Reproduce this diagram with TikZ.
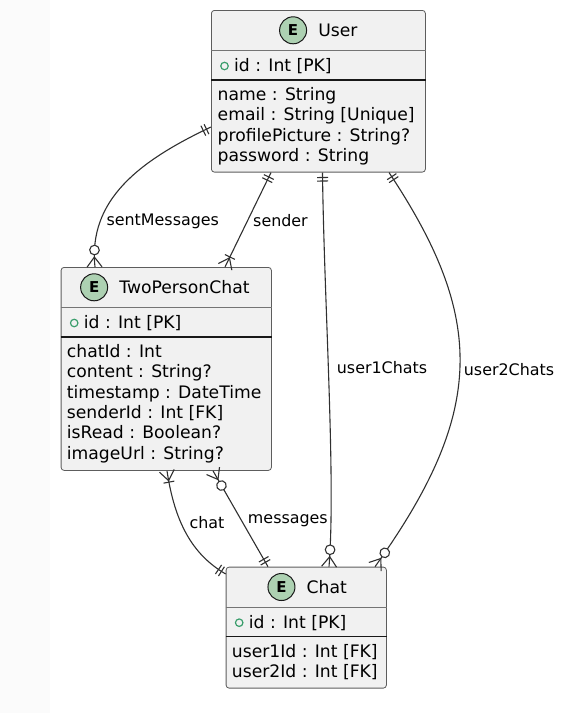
\documentclass[tikz,border=0pt]{standalone}
\usepackage{fontspec}
\setmainfont{DejaVu Sans}
\usetikzlibrary{positioning,decorations.markings}
\definecolor{entfill}{HTML}{F1F1F1}
\definecolor{entline}{HTML}{181818}
\definecolor{spotgreen}{HTML}{ADD1B2}
\definecolor{pkgreen}{HTML}{3A9E6C}
\definecolor{linkcol}{HTML}{303030}
\tikzset{
  ent/.style={draw=entline!70, line width=0.8pt, fill=entfill, rounded corners=3pt, inner sep=0pt},
  etitle/.style={font=\fontsize{17.2pt}{20.3pt}\selectfont, inner sep=0pt},
  etext/.style={font=\fontsize{17.2pt}{20.3pt}\selectfont, inner sep=0pt, align=left},
  spot/.style={circle, draw=entline, line width=1pt, fill=spotgreen, minimum size=27pt, inner sep=0pt,
    font=\bfseries\fontsize{15pt}{15pt}\selectfont},
  pkdot/.style={circle, draw=pkgreen, line width=1.2pt, minimum size=7.5pt, inner sep=0pt},
  hsep/.style={draw=entline!60, line width=0.8pt},
  pksep/.style={draw=entline, line width=1.5pt},
  link/.style={draw=linkcol, line width=1.1pt},
  lbl/.style={font=\fontsize{15.9pt}{18pt}\selectfont, inner sep=0pt, anchor=west},
  % crow's foot ends
  one start/.style={postaction={decorate, decoration={markings,
    mark=at position 5pt with {\draw[link] (0pt,-5.5pt) -- (0pt,5.5pt);},
    mark=at position 8.5pt with {\draw[link] (0pt,-5.5pt) -- (0pt,5.5pt);}}}},
  one end/.style={postaction={decorate, decoration={markings,
    mark=at position -5pt with {\draw[link] (0pt,-5.5pt) -- (0pt,5.5pt);},
    mark=at position -8.5pt with {\draw[link] (0pt,-5.5pt) -- (0pt,5.5pt);}}}},
  many start/.style={postaction={decorate, decoration={markings,
    mark=at position 10pt with {\draw[link] (-10pt,7.5pt) -- (0pt,0pt) -- (-10pt,-7.5pt);}}}},
  many end/.style={postaction={decorate, decoration={markings,
    mark=at position -10pt with {\draw[link] (10pt,7.5pt) -- (0pt,0pt) -- (10pt,-7.5pt);}}}},
  bar start/.style={postaction={decorate, decoration={markings,
    mark=at position 11.5pt with {\draw[link] (0pt,-5.5pt) -- (0pt,5.5pt);}}}},
  bar end/.style={postaction={decorate, decoration={markings,
    mark=at position -11pt with {\draw[link] (0pt,-5.5pt) -- (0pt,5.5pt);}}}},
  zero start/.style={postaction={decorate, decoration={markings,
    mark=at position 17pt with {\draw[link, fill=white] (0pt,0pt) circle (4.8pt);}}}},
  zero end/.style={postaction={decorate, decoration={markings,
    mark=at position -17pt with {\draw[link, fill=white] (0pt,0pt) circle (4.8pt);}}}},
}

\begin{document}
\begin{tikzpicture}[x=1pt, y=-1pt]
  \useasboundingbox (0,0) rectangle (580,713);
  \fill[black!1.5] (0,0) rectangle (50,713);
  % User
  \node[ent, anchor=north west, minimum width=214pt, minimum height=161.7pt] (user) at (211,10) {};
  \node[etitle] (usertitle) at ([xshift=19.5pt, yshift=-20.3pt]user.north) {User};
  \node[spot, left=11pt of usertitle] (userspot) {E};
  \draw[hsep] ([yshift=-40.5pt]user.north west) -- ([yshift=-40.5pt]user.north east);
  \node[pkdot] (userpk) at ([xshift=13.5pt, yshift=-56pt]user.north west) {};
  \node[etext, anchor=base west] (userid) at ([xshift=23pt, yshift=-61.5pt]user.north west) {id : Int [PK]};
  \draw[pksep] ([yshift=-70pt]user.north west) -- ([yshift=-70pt]user.north east);
  \node[etext, anchor=base west] (userattr) at ([xshift=6.5pt, yshift=-151.4pt]user.north west)
    {name : String\\email : String [Unique]\\profilePicture : String?\\password : String};
  % TwoPersonChat
  \node[ent, anchor=north west, minimum width=210.3pt, minimum height=203pt] (tpc) at (60.7,267) {};
  \node[etitle] (tpctitle) at ([xshift=18.2pt, yshift=-20.3pt]tpc.north) {TwoPersonChat};
  \node[spot, left=11pt of tpctitle] (tpcspot) {E};
  \draw[hsep] ([yshift=-40.5pt]tpc.north west) -- ([yshift=-40.5pt]tpc.north east);
  \node[pkdot] (tpcpk) at ([xshift=13.5pt, yshift=-56pt]tpc.north west) {};
  \node[etext, anchor=base west] (tpcid) at ([xshift=23pt, yshift=-61.5pt]tpc.north west) {id : Int [PK]};
  \draw[pksep] ([yshift=-70pt]tpc.north west) -- ([yshift=-70pt]tpc.north east);
  \node[etext, anchor=base west] (tpcattr) at ([xshift=6pt, yshift=-192pt]tpc.north west)
    {chatId : Int\\content : String?\\timestamp : DateTime\\senderId : Int [FK]\\isRead : Boolean?\\imageUrl : String?};
  % Chat
  \node[ent, anchor=north west, minimum width=160.3pt, minimum height=121pt] (chat) at (225.7,566.7) {};
  \node[etitle] (chattitle) at ([xshift=20.5pt, yshift=-20.3pt]chat.north) {Chat};
  \node[spot, left=11pt of chattitle] (chatspot) {E};
  \draw[hsep] ([yshift=-40.5pt]chat.north west) -- ([yshift=-40.5pt]chat.north east);
  \node[pkdot] (chatpk) at ([xshift=13.5pt, yshift=-56pt]chat.north west) {};
  \node[etext, anchor=base west] (chatid) at ([xshift=23pt, yshift=-61.5pt]chat.north west) {id : Int [PK]};
  \draw[pksep] ([yshift=-70pt]chat.north west) -- ([yshift=-70pt]chat.north east);
  \node[etext, anchor=base west] (chatattr) at ([xshift=6pt, yshift=-110.8pt]chat.north west)
    {user1Id : Int [FK]\\user2Id : Int [FK]};
  % relations
  \draw[link, one start, zero end, many end] ([yshift=-117pt]user.north west)
    .. controls +(-72,34) and +(-7,-67) .. ([xshift=34.3pt]tpc.north west)
    node[lbl, pos=0.75, xshift=6pt] {sentMessages};
  \draw[link, one start, bar end, many end] ([xshift=60pt]user.south west)
    -- ([xshift=164.3pt]tpc.north west) node[lbl, pos=0.507, xshift=5pt] {sender};
  \draw[link, one start, zero end, many end] ([xshift=111.5pt]user.south west)
    .. controls +(1.5,128) and +(7,-87) .. ([xshift=103.3pt]chat.north west)
    node[lbl, pos=0.46, xshift=8pt] {user1Chats};
  \draw[link, one start, zero end, many end] ([xshift=178pt]user.south west)
    .. controls +(97,146) and +(111,-155) .. ([xshift=149.3pt]chat.north west)
    node[lbl, pos=0.51, xshift=3.5pt] {user2Chats};
  \draw[link, many start, bar start, one end] ([xshift=106.3pt]tpc.south west)
    .. controls +(7.5,50) and +(-34.4,-20) .. ([yshift=-7.3pt]chat.north west)
    node[lbl, pos=0.4, xshift=8pt] {chat};
  \draw[link, zero start, many start, one end] ([xshift=152.3pt]tpc.south west)
    -- ([xshift=42.3pt]chat.north west) node[lbl, pos=0.517, xshift=6pt] {messages};
\end{tikzpicture}
\end{document}
